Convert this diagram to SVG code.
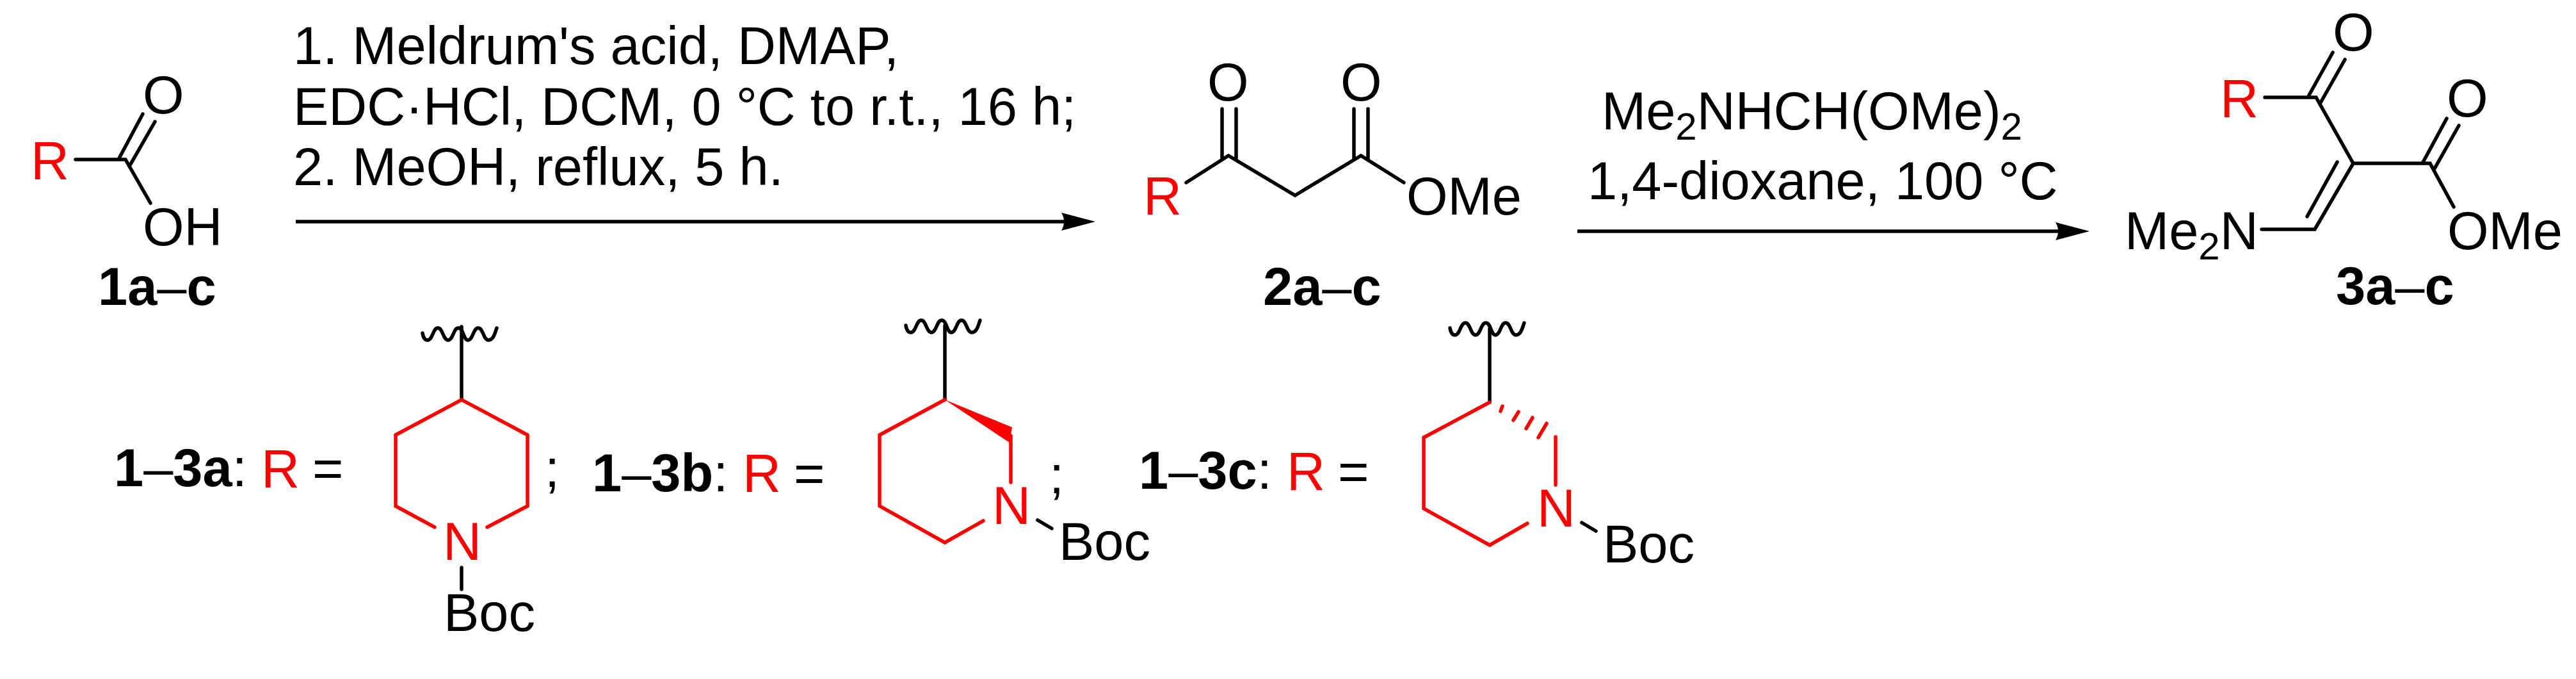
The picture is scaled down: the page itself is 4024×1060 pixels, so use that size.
<svg xmlns="http://www.w3.org/2000/svg" width="4024" height="1060" viewBox="0 0 4024 1060">
<style>
text{font-family:"Liberation Sans",Arial,sans-serif;font-size:83px;fill:#000}
.r{fill:#f00}
.b{font-weight:bold}
.n{font-weight:normal}
.s{font-size:60px}
.k{stroke:#000;stroke-width:5.5;fill:none;stroke-linecap:round;stroke-linejoin:miter}
.red{stroke:#f00;stroke-width:5.5;fill:none;stroke-linecap:round;stroke-linejoin:miter}
.arrow{stroke:#000;stroke-width:5.5;fill:none;marker-end:url(#head)}
</style>
<defs>
<marker id="head" markerUnits="userSpaceOnUse" markerWidth="54" markerHeight="30" viewBox="0 0 54 30" refX="8" refY="15" orient="auto">
<path d="M0 1L53 15L0 29Q8 15 0 1Z" fill="#000"/>
</marker>
<path id="wave" class="k" d="M0 8C1 14 3 19 8 19C16 19 16 0 24 0C32 0 32 19 40 19C48 19 48 0 56 0C64 0 64 19 71 19C79 19 79 0 87 0C95 0 95 19 103 19C111 19 113 8 116 0"/>
</defs>
<rect width="4024" height="1060" fill="#fff"/>
<g id="connectors">
<path class="arrow" d="M462 346H1666"/>
<path class="arrow" d="M2464 361H3219"/>
</g>
<g id="node-1">
<text class="r" x="48" y="280">R</text>
<text x="223" y="177">O</text>
<text x="223" y="383">OH</text>
<path class="k" d="M118 249H196L235 317M185 249L223 178M203 258L242 190"/>
<text class="b" x="153" y="476">1a<tspan class="n">–</tspan>c</text>
</g>
<g id="conditions-1">
<text x="458" y="100">1. Meldrum's acid, DMAP,</text>
<text x="458" y="195">EDC·HCl, DCM, 0 °C to r.t., 16 h;</text>
<text x="458" y="289">2. MeOH, reflux, 5 h.</text>
</g>
<g id="node-2">
<text class="r" x="1786" y="335">R</text>
<text x="1886" y="157">O</text>
<text x="2094" y="157">O</text>
<text x="2197" y="335">OMe</text>
<path class="k" d="M1853 285L1919 243L2023 305L2126 243L2193 285M1909 170V249M1931 170V249M2115 170V249M2137 170V249"/>
<text class="b" x="1973" y="476">2a<tspan class="n">–</tspan>c</text>
</g>
<g id="conditions-2">
<text x="2502" y="202">Me<tspan class="s" dy="16">2</tspan><tspan dy="-16">NHCH(OMe)</tspan><tspan class="s" dy="16">2</tspan></text>
<text x="2480" y="311">1,4-dioxane, 100 °C</text>
</g>
<g id="node-3">
<text class="r" x="3468" y="183">R</text>
<text x="3644" y="79">O</text>
<text x="3822" y="182">O</text>
<text x="3823" y="389">OMe</text>
<text x="3319" y="389">Me<tspan class="s" dy="16">2</tspan><tspan dy="-16">N</tspan></text>
<path class="k" d="M3538 152H3618L3676 255H3796L3833 323M3605 152L3644 82M3624 162L3663 93M3784 255L3822 185M3802 265L3841 196M3676 255L3616 358H3533M3651 253L3604 338"/>
<text class="b" x="3649" y="475">3a<tspan class="n">–</tspan>c</text>
</g>
<g id="legend-a">
<text x="178" y="759"><tspan class="b">1<tspan class="n">–</tspan>3a</tspan>:</text>
<text class="r" x="408" y="761">R</text>
<text x="488" y="760">=</text>
<use href="#wave" x="660" y="512"/>
<path class="k" d="M721 510V624M721 886V920"/>
<path class="red" d="M679 823L618 790V679L721 624L824 679V790L761 823"/>
<text class="r" x="692" y="874">N</text>
<text x="693" y="985">Boc</text>
<text x="851" y="760">;</text>
</g>
<g id="legend-b">
<text x="925" y="767"><tspan class="b">1<tspan class="n">–</tspan>3b</tspan>:</text>
<text class="r" x="1160" y="768">R</text>
<text x="1240" y="768">=</text>
<use href="#wave" x="1415" y="500"/>
<path class="k" d="M1476 508V624M1621 812L1643 825"/>
<path class="red" d="M1536 813L1476 847L1374 790V679L1476 624M1579 680V753"/>
<path d="M1476 624L1581 667L1577 691Z" fill="#f00"/>
<text class="r" x="1550" y="818">N</text>
<text x="1654" y="874">Boc</text>
<text x="1639" y="770">;</text>
</g>
<g id="legend-c">
<text x="1779" y="763"><tspan class="b">1<tspan class="n">–</tspan>3c</tspan>:</text>
<text class="r" x="2010" y="765">R</text>
<text x="2090" y="765">=</text>
<use href="#wave" x="2265" y="504"/>
<path class="k" d="M2327 513V628M2471 816L2493 829"/>
<path class="red" d="M2386 817L2327 851L2224 794V683L2327 628M2430 682V757M2347 634L2344 642M2372 643L2364 656M2394 652L2384 669M2416 661L2403 683"/>
<text class="r" x="2401" y="822">N</text>
<text x="2504" y="878">Boc</text>
</g>
</svg>
